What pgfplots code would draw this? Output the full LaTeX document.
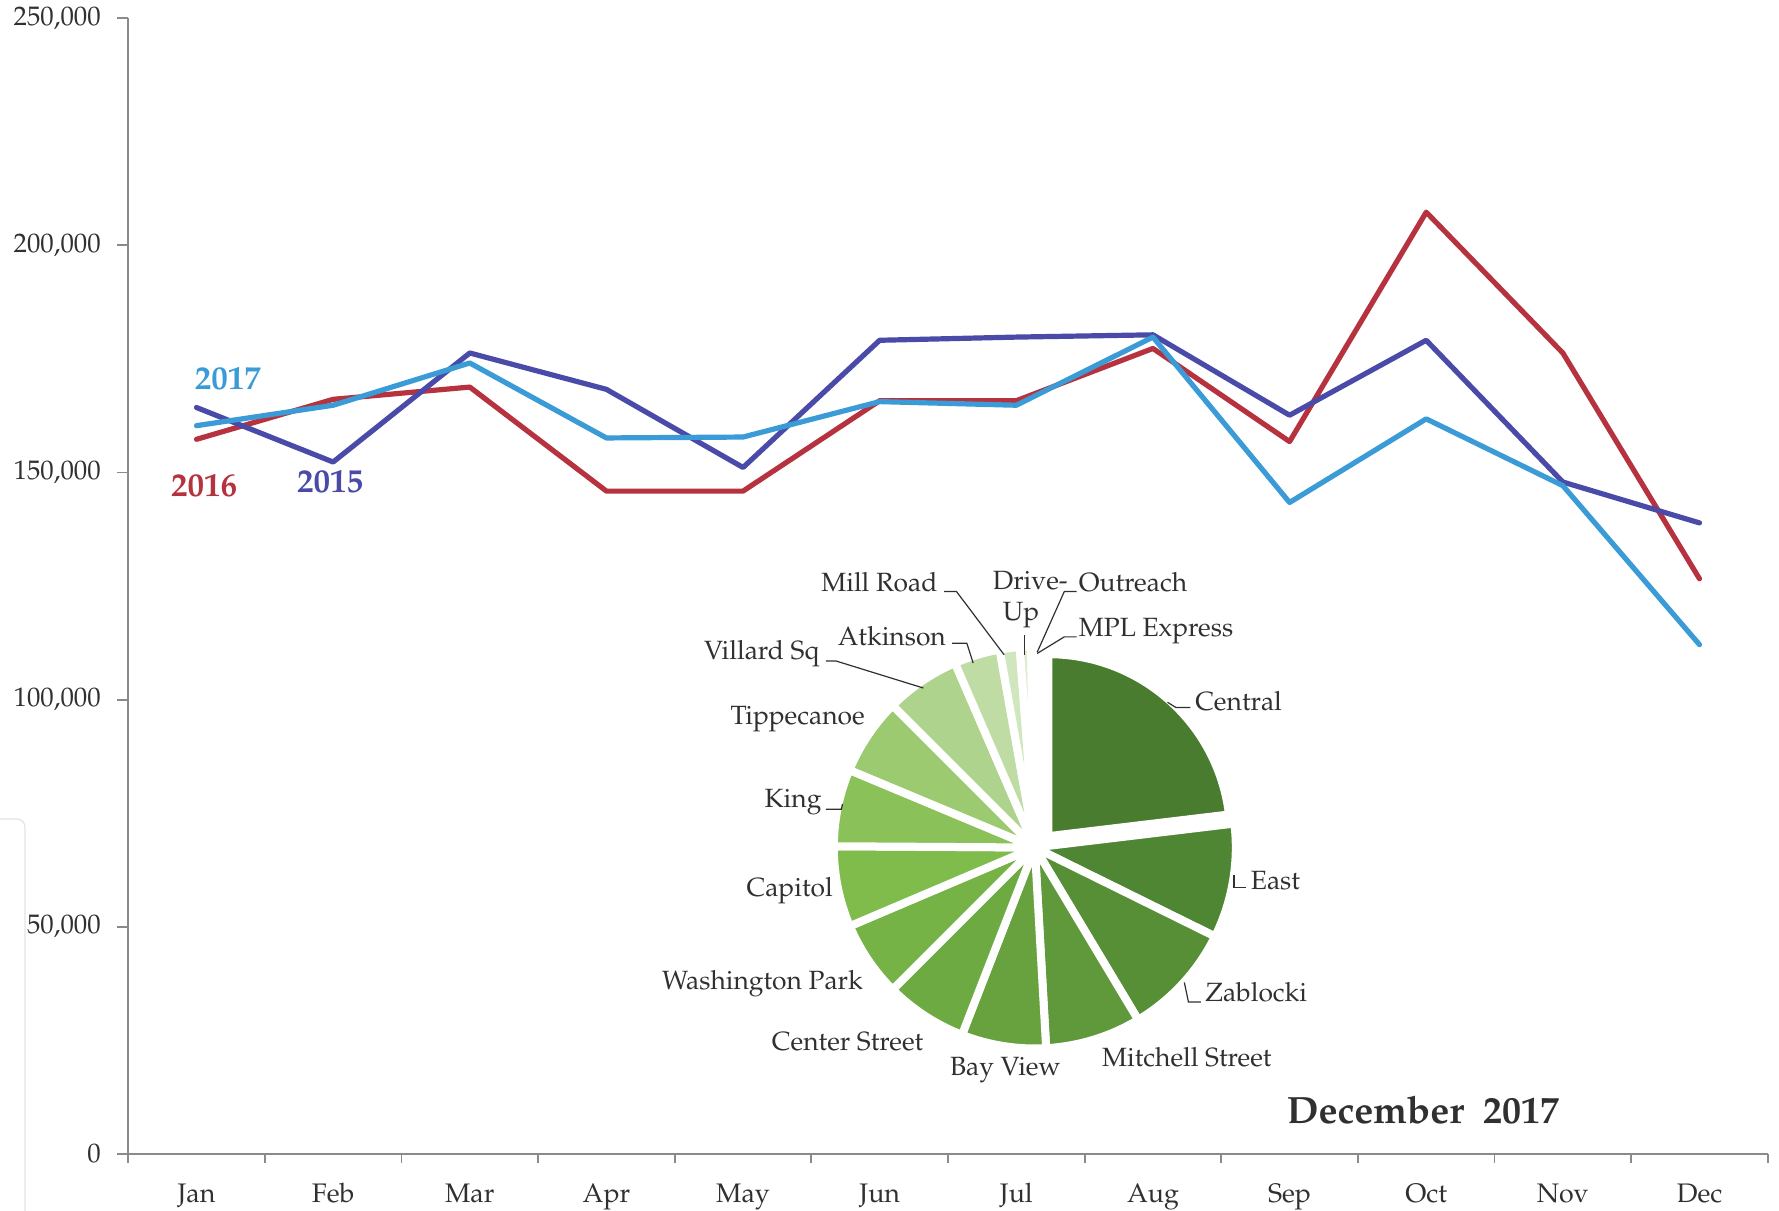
\documentclass[border=0pt]{standalone}
\usepackage[T1]{fontenc}
\usepackage{mathpazo}
\usepackage{pgfplots}
\usepackage{pgfplotstable}
\pgfplotsset{compat=1.18}

\definecolor{axisgray}{HTML}{8A8A8A}
\definecolor{ticktext}{HTML}{303030}
\definecolor{c2015}{HTML}{4A4AA8}
\definecolor{c2016}{HTML}{B5323E}
\definecolor{c2017}{HTML}{3A9BD6}
\definecolor{pCentral}{HTML}{4A7C2F}
\definecolor{pEast}{HTML}{4F8633}
\definecolor{pZablocki}{HTML}{578F37}
\definecolor{pMitchell}{HTML}{5F993B}
\definecolor{pBayView}{HTML}{67A23F}
\definecolor{pCenter}{HTML}{6EAA42}
\definecolor{pWashington}{HTML}{76B346}
\definecolor{pCapitol}{HTML}{80BC4C}
\definecolor{pKing}{HTML}{8AC259}
\definecolor{pTippecanoe}{HTML}{9BCA70}
\definecolor{pVillard}{HTML}{AED38C}
\definecolor{pAtkinson}{HTML}{C0DCA5}
\definecolor{pMill}{HTML}{D0E6BC}
\definecolor{pDrive}{HTML}{DCECCC}
\definecolor{pOutreach}{HTML}{E6F1DC}
\definecolor{pMPL}{HTML}{EEF6E6}

\pgfplotstableread{
x    y2015  y2016  y2017
0.5  164300 157300 160300
1.5  152300 166100 164800
2.5  176300 168800 174100
3.5  168300 145900 157600
4.5  151100 145900 157800
5.5  179100 165800 165600
6.5  179800 165800 164800
7.5  180300 177300 179800
8.5  162600 156800 143400
9.5  179100 207300 161800
10.5 147900 176300 147100
11.5 138900 126600 112100
}\monthly

\begin{document}
\begin{tikzpicture}[
  pl/.style={font=\fontsize{13.2}{15}\selectfont, text=ticktext, inner sep=0pt},
  ld/.style={draw=ticktext, line width=0.6pt},
]
\path[use as bounding box] (0,0) rectangle (889.5pt,605.5pt);
\draw[gray!22, line width=0.6pt, rounded corners=4pt] (0,196pt) -- (12.5pt,196pt) -- (12.5pt,0);

\begin{axis}[
  at={(64.1pt,28.55pt)}, anchor=south west,
  scale only axis, width=819.8pt, height=567.85pt,
  xmin=0, xmax=12, ymin=0, ymax=250000,
  axis x line=bottom, axis y line=left,
  axis line style={-, draw=axisgray, line width=0.9pt},
  tick align=outside,
  xtick={0.5,1.5,...,11.5},
  xticklabels={Jan,Feb,Mar,Apr,May,Jun,Jul,Aug,Sep,Oct,Nov,Dec},
  major x tick style={draw=none},
  minor xtick={0,1,...,12},
  minor tick length=4.5pt,
  minor x tick style={draw=axisgray, line width=0.9pt},
  major tick length=5.5pt,
  ytick={0,50000,...,250000},
  y tick style={draw=axisgray, line width=0.9pt},
  scaled y ticks=false,
  /pgf/number format/assume math mode=true,
  ticklabel style={font=\fontsize{13.4}{16}\selectfont, text=ticktext},
  xticklabel style={text height=9.3pt, text depth=3pt, yshift=-6pt},
  yticklabel style={xshift=-4.7pt, /pgf/number format/.cd, fixed, 1000 sep={,}},
  clip=false,
]
\addplot[c2016, line width=2.6pt, line join=round, line cap=round] table[x=x,y=y2016]{\monthly};
\addplot[c2015, line width=2.6pt, line join=round, line cap=round] table[x=x,y=y2015]{\monthly};
\addplot[c2017, line width=2.6pt, line join=round, line cap=round] table[x=x,y=y2017]{\monthly};

\node[font=\bfseries\fontsize{16.5}{18}\selectfont, text=c2017] at (axis cs:0.730,170580) {2017};
\node[font=\bfseries\fontsize{16.5}{18}\selectfont, text=c2016] at (axis cs:0.555,147025) {2016};
\node[font=\bfseries\fontsize{16.5}{18}\selectfont, text=c2015] at (axis cs:1.477,147905) {2015};
\node[font=\bfseries\fontsize{19}{21}\selectfont, text=ticktext] at (axis cs:9.477,9664) {December\ \ 2017};
\end{axis}

\begin{axis}[
  at={(517.4pt,181.75pt)}, anchor=center,
  scale only axis, width=195.2pt, height=195.2pt,
  xmin=-1, xmax=1, ymin=-1, ymax=1,
  hide axis, clip=false,
]
\pgfplotsextra{
  \gdef\curang{90}
  \foreach \p/\c/\e/\r in {23.1/pCentral/8.8/91, 9.2/pEast/0/100.5, 9.1/pZablocki/0/100.5,
      7.7/pMitchell/0/100.5, 6.8/pBayView/0/100.5, 6.6/pCenter/0/100.5, 6.1/pWashington/0/100.5,
      6.5/pCapitol/0/100.5, 6.2/pKing/0/100.5, 6.2/pTippecanoe/0/100.5, 6.0/pVillard/0/100.5,
      3.7/pAtkinson/0/100.5, 1.6/pMill/0/100.5, 0.9/pDrive/0/100.5,
      0.2/pOutreach/0/100.5, 0.2/pMPL/0/100.5}{
    \pgfmathsetmacro\endang{\curang-3.6*\p}
    \fill[\c, draw=white, line width=4pt, line join=round]
      ([shift={(40:\e pt)}]axis cs:0,0) -- ++(\curang:\r pt)
      arc[start angle=\curang, end angle=\endang, radius=\r pt] -- cycle;
    \xdef\curang{\endang}
  }
}
% labels
\node[pl, anchor=west] at (axis cs:0.820,0.750) {Central};
\draw[ld] (axis cs:0.680,0.744) -- (axis cs:0.723,0.717) -- (axis cs:0.797,0.717);
\node[pl, anchor=west] at (axis cs:1.105,-0.169) {East};
\draw[ld] (axis cs:1.020,-0.142) -- (axis cs:1.020,-0.206) -- (axis cs:1.084,-0.206);
\node[pl, anchor=west] at (axis cs:0.872,-0.744) {Zablocki};
\draw[ld] (axis cs:0.766,-0.691) -- (axis cs:0.787,-0.791) -- (axis cs:0.851,-0.791);
\node[pl] at (axis cs:0.779,-1.076) {Mitchell Street};
\node[pl] at (axis cs:-0.151,-1.140) {Bay View};
\node[pl] at (axis cs:-0.959,-0.994) {Center Street};
\node[pl] at (axis cs:-1.395,-0.698) {Washington Park};
\node[pl] at (axis cs:-1.256,-0.221) {Capitol};
\node[pl, anchor=east] at (axis cs:-1.091,0.233) {King};
\draw[ld] (axis cs:-1.070,0.196) -- (axis cs:-0.991,0.196) -- (axis cs:-0.985,0.223);
\node[pl] at (axis cs:-1.215,0.657) {Tippecanoe};
\node[pl, anchor=east] at (axis cs:-1.102,0.991) {Villard Sq};
\draw[ld] (axis cs:-1.070,0.955) -- (axis cs:-1.017,0.955) -- (axis cs:-0.571,0.817);
\node[pl, anchor=east] at (axis cs:-0.454,1.083) {Atkinson};
\draw[ld] (axis cs:-0.423,1.046) -- (axis cs:-0.348,1.046) -- (axis cs:-0.316,0.945);
\node[pl, anchor=east] at (axis cs:-0.497,1.357) {Mill Road};
\draw[ld] (axis cs:-0.465,1.311) -- (axis cs:-0.401,1.311) -- (axis cs:-0.157,0.987);
\node[pl] at (axis cs:-0.023,1.366) {Drive-};
\node[pl] at (axis cs:-0.070,1.192) {Up};
\draw[ld] (axis cs:-0.052,1.087) -- (axis cs:-0.052,0.988);
\node[pl, anchor=west] at (axis cs:0.224,1.357) {Outreach};
\draw[ld] (axis cs:0.214,1.311) -- (axis cs:0.151,1.311) -- (axis cs:0.012,1.0);
\node[pl, anchor=west] at (axis cs:0.224,1.110) {MPL Express};
\draw[ld] (axis cs:0.214,1.079) -- (axis cs:0.151,1.079) -- (axis cs:0.012,0.994);
\end{axis}
\end{tikzpicture}
\end{document}
